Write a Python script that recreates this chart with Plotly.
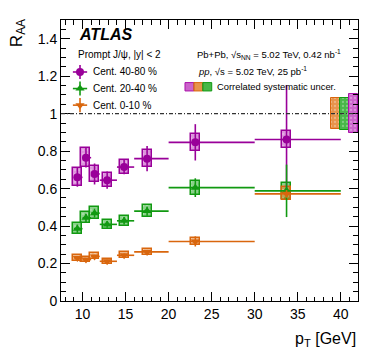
import plotly.graph_objects as go

# mean pT of each bin and the bin edges
pt = [9.4, 10.4, 11.4, 12.86, 14.83, 17.5, 23.1, 33.7]
bin_lo = [9, 10, 11, 12, 14, 16, 20, 30]
bin_hi = [10, 11, 12, 14, 16, 20, 30, 40]

# Cent. 40-80 %
raa_periph = [0.66, 0.765, 0.678, 0.645, 0.715, 0.76, 0.847, 0.862]
stat_periph = [0.05, 0.053, 0.056, 0.046, 0.038, 0.068, 0.097, 0.29]
sys_periph = [0.048, 0.05, 0.045, 0.037, 0.037, 0.046, 0.047, 0.043]

# Cent. 20-40 %
raa_mid = [0.386, 0.444, 0.469, 0.409, 0.428, 0.48, 0.605, 0.588]
stat_mid = [0.022, 0.022, 0.024, 0.018, 0.02, 0.025, 0.05, 0.14]
sys_mid = [0.028, 0.029, 0.032, 0.022, 0.026, 0.031, 0.037, 0.042]

# Cent. 0-10 %
raa_cent = [0.23, 0.221, 0.238, 0.212, 0.244, 0.262, 0.318, 0.572]
stat_cent = [0.008, 0.008, 0.009, 0.008, 0.009, 0.011, 0.027, 0.02]
sys_cent = [0.016, 0.015, 0.016, 0.013, 0.015, 0.016, 0.018, 0.035]

# correlated (global) uncertainties at R_AA = 1
corr_names = ["Cent. 0-10 %", "Cent. 20-40 %", "Cent. 40-80 %"]
corr_unc = [0.084, 0.085, 0.105]

series = [
    ("Cent. 40-80 %", raa_periph, stat_periph, sys_periph, "#990099", "rgba(190,60,190,0.55)", "circle", 8),
    ("Cent. 20-40 %", raa_mid, stat_mid, sys_mid, "#119911", "rgba(40,170,40,0.55)", "triangle-up", 8),
    ("Cent. 0-10 %", raa_cent, stat_cent, sys_cent, "#d9660d", "rgba(225,120,30,0.55)", "triangle-down", 8),
]
corr_col = {"Cent. 40-80 %": ("#aa11aa", "rgba(190,60,190,0.8)"),
            "Cent. 20-40 %": ("#119911", "rgba(40,170,40,0.85)"),
            "Cent. 0-10 %": ("#d9660d", "rgba(225,120,30,0.8)")}

fig = go.Figure()

# systematic boxes
for name, raa, stat, sys_, col, fill, sym, ms in series:
    fig.add_trace(go.Bar(
        x=pt, y=[2 * s for s in sys_], base=[r - s for r, s in zip(raa, sys_)],
        width=1.04, marker=dict(color=fill, line=dict(color=col, width=1.5),
                                pattern=dict(shape=".", fillmode="overlay", fgcolor="rgba(255,255,255,0.5)", size=4, solidity=0.25)),
        showlegend=False, hoverinfo="skip"))

# correlated boxes on the right
corr_x = [39.4, 40.43, 41.47]
for cx, nm, u in zip(corr_x, corr_names, corr_unc):
    lc, fc = corr_col[nm]
    fig.add_trace(go.Bar(
        x=[cx], y=[2 * u], base=[1 - u], width=1.03,
        marker=dict(color=fc, line=dict(color=lc, width=1),
                    pattern=dict(shape=".", fillmode="overlay", fgcolor="rgba(255,255,255,0.6)", size=4, solidity=0.25)),
        showlegend=False, hoverinfo="skip"))

# points with stat errors and bin widths
for name, raa, stat, sys_, col, fill, sym, ms in series:
    fig.add_trace(go.Scatter(
        x=pt, y=raa, mode="markers",
        marker=dict(symbol=sym, size=ms, color=col),
        error_x=dict(type="data", symmetric=False,
                     array=[h - p for h, p in zip(bin_hi, pt)],
                     arrayminus=[p - l for l, p in zip(bin_lo, pt)],
                     color=col, thickness=1.6, width=0),
        error_y=dict(type="data", array=stat, color=col, thickness=1.6, width=0),
        showlegend=False))

# legend glyphs on an invisible overlay axis
leg_y = [0.815, 0.756, 0.697]
for (name, raa, stat, sys_, col, fill, sym, ms), ly in zip(series, leg_y):
    fig.add_trace(go.Scatter(
        x=[0.064], y=[ly], mode="markers", xaxis="x2", yaxis="y2",
        marker=dict(symbol=sym, size=ms, color=col),
        error_x=dict(type="constant", value=0.024, color=col, thickness=1.6, width=0),
        error_y=dict(type="constant", value=0.025, color=col, thickness=1.6, width=0),
        showlegend=False, hoverinfo="skip"))

font = "Liberation Sans, Arial, sans-serif"
ann = [
    dict(text="<b><i>ATLAS</i></b>", x=0.054, y=0.95, font=dict(size=16)),
    dict(text="Prompt J/ψ, |y| < 2", x=0.05, y=0.878, font=dict(size=10)),
    dict(text="Cent. 40-80 %", x=0.1, y=0.815, font=dict(size=10)),
    dict(text="Cent. 20-40 %", x=0.1, y=0.756, font=dict(size=10)),
    dict(text="Cent. 0-10 %", x=0.1, y=0.697, font=dict(size=10)),
    dict(text="Pb+Pb, √s<sub>NN</sub> = 5.02 TeV, 0.42 nb<sup>-1</sup>", x=0.451, y=0.878, font=dict(size=9.5)),
    dict(text="<i>pp</i>, √s = 5.02 TeV, 25 pb<sup>-1</sup>", x=0.455, y=0.818, font=dict(size=9.5)),
    dict(text="Correlated systematic uncer.", x=0.518, y=0.762, font=dict(size=9.4)),
]
annotations = []
for a in ann:
    annotations.append(dict(xref="paper", yref="paper", xanchor="left", yanchor="middle",
                            showarrow=False, **a))
annotations.append(dict(text="R<sub>AA</sub>", xref="paper", yref="paper", x=-0.145, y=1.01,
                        xanchor="center", yanchor="top", textangle=-90, showarrow=False,
                        font=dict(size=17)))
annotations.append(dict(text="p<sub>T</sub> [GeV]", xref="paper", yref="paper", x=1.0, y=-0.137,
                        xanchor="right", yanchor="middle", showarrow=False, font=dict(size=16)))

shapes = [
    dict(type="line", xref="paper", yref="y", x0=0, x1=1, y0=1, y1=1,
         line=dict(color="#333333", width=1.2, dash="4px,2px,1px,2px"), layer="above"),
]
# legend box for correlated uncertainties
for i, (c, f) in enumerate([("#aa11aa", "rgba(190,60,190,0.8)"),
                            ("#d9660d", "rgba(225,120,30,0.8)"),
                            ("#119911", "rgba(40,170,40,0.85)")]):
    shapes.append(dict(type="rect", xref="paper", yref="paper",
                       x0=0.4175 + i * 0.03, x1=0.4475 + i * 0.03, y0=0.7475, y1=0.7773,
                       fillcolor=f, line=dict(color=c, width=1)))

axis_common = dict(showline=True, linecolor="black", linewidth=1, mirror="allticks",
                   ticks="inside", ticklen=9, tickcolor="black", showgrid=False, zeroline=False,
                   tickfont=dict(size=14, color="black"))
# the page body has an 8px margin, so the left/top margins are reduced by 8
fig.update_layout(
    width=377, height=360,
    margin=dict(l=53, r=27, t=11.5, b=66.5),
    paper_bgcolor="white", plot_bgcolor="white",
    font=dict(family=font, color="black"),
    barmode="overlay", bargap=0,
    xaxis=dict(range=[7.5, 42], tick0=10, dtick=5,
               minor=dict(dtick=1, ticklen=4.5, ticks="inside", tickcolor="black"), **axis_common),
    yaxis=dict(range=[0, 1.5], tick0=0, dtick=0.2,
               minor=dict(dtick=0.05, ticklen=5, ticks="inside", tickcolor="black"), **axis_common),
    xaxis2=dict(range=[0, 1], overlaying="x", visible=False, fixedrange=True),
    yaxis2=dict(range=[0, 1], overlaying="y", visible=False, fixedrange=True),
    annotations=annotations, shapes=shapes, showlegend=False,
)

fig.write_html("out.html")
